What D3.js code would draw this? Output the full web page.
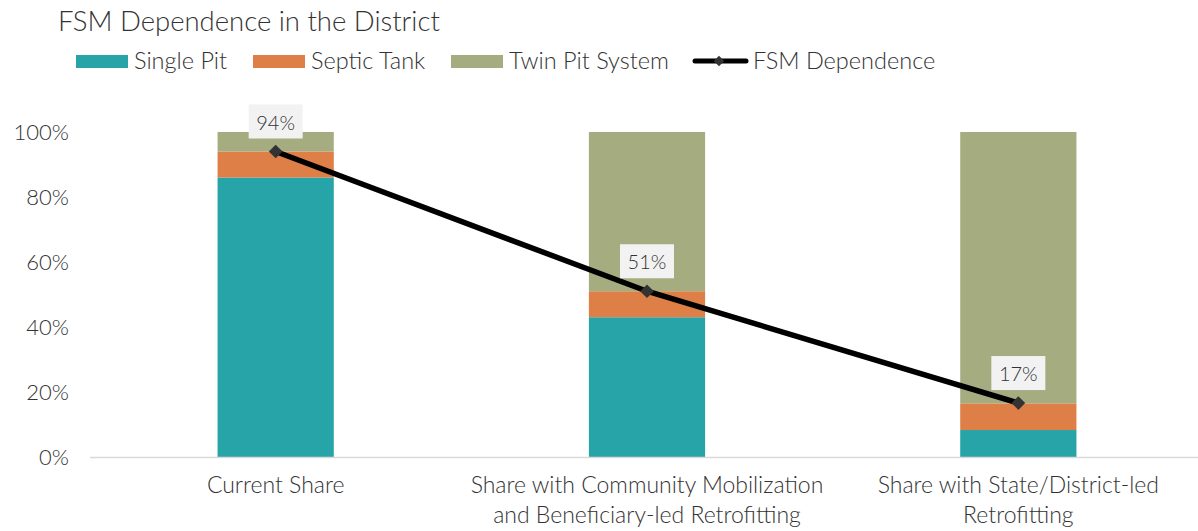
<!DOCTYPE html>
<html>
<head>
<meta charset="utf-8">
<script src="https://cdn.jsdelivr.net/npm/d3@7"></script>
<style>
body { margin: 0; background: #fff; }
svg text { font-family: Lato, "Open Sans", sans-serif; fill: #333; font-weight: 300; }
</style>
</head>
<body>
<div id="chart"></div>
<script>
width = 1198;
height = 531;
margins = {left: 90, right: -6, top: 132, bottom: 74};

categories = [
    ["Current Share"],
    ["Share with Community Mobilization", "and Beneficiary-led Retrofitting"],
    ["Share with State/District-led", "Retrofitting"]
];
singlePit = [86, 43, 8.3];
septicTank = [8, 8, 8.2];
twinPit = [6, 49, 83.5];
fsmDependence = [94, 51, 16.6];
yTicks = [0, 20, 40, 60, 80, 100];

seriesNames = ["Single Pit", "Septic Tank", "Twin Pit System"];
colors = ["#26A4A8", "#DE7F47", "#A4AC80"];

var rows = categories.map((c, i) => ({i: i, "Single Pit": singlePit[i], "Septic Tank": septicTank[i], "Twin Pit System": twinPit[i]}));
var stacked = d3.stack().keys(seriesNames)(rows);

var x = d3.scaleBand().domain(d3.range(categories.length))
    .range([margins.left, width - margins.right]).paddingInner(0.687).paddingOuter(0.3435);
var y = d3.scaleLinear().domain([0, 100]).range([height - margins.bottom, margins.top]);

var svg = d3.select("#chart").append("svg")
    .attr("width", width)
    .attr("height", height);

// title
svg.append("text").attr("x", 58).attr("y", 31)
    .style("font-size", "27.5px")
    .text("FSM Dependence in the District");

// legend
var legendX = [76, 253, 451];
seriesNames.forEach(function(name, k) {
    svg.append("rect").attr("x", legendX[k]).attr("y", 55).attr("width", 52).attr("height", 13).attr("fill", colors[k]);
    svg.append("text").attr("x", legendX[k] + 58).attr("y", 69)
        .style("font-size", "23.5px").text(name);
});
svg.append("line").attr("x1", 695).attr("x2", 746).attr("y1", 61).attr("y2", 61)
    .attr("stroke", "#000").attr("stroke-width", 5).attr("stroke-linecap", "round");
svg.append("path").attr("d", d3.symbol(d3.symbolDiamond2, 70)()).attr("transform", "translate(719,61)").attr("fill", "#333");
svg.append("text").attr("x", 753).attr("y", 69)
    .style("font-size", "23.5px").text("FSM Dependence");

// y axis
var yAxis = d3.axisLeft(y).tickValues(yTicks).tickFormat(d => d + "%").tickSize(0).tickPadding(0);
var ya = svg.append("g").attr("transform", "translate(69,0)").call(yAxis);
ya.select(".domain").remove();
ya.selectAll("text").style("font-size", "22px").attr("fill", "#333");

// bars
svg.append("g").selectAll("g")
    .data(stacked)
    .enter().append("g")
    .attr("fill", (d, k) => colors[k])
    .selectAll("rect")
    .data(d => d)
    .enter().append("rect")
    .attr("x", d => x(d.data.i))
    .attr("y", d => y(d[1]))
    .attr("width", x.bandwidth())
    .attr("height", d => y(d[0]) - y(d[1]));

// baseline
svg.append("line").attr("x1", margins.left).attr("x2", 1198).attr("y1", y(0) + 0.5).attr("y2", y(0) + 0.5)
    .attr("stroke", "#d9d9d9").attr("stroke-width", 1.5);

// x labels
var xl = svg.append("g").selectAll("text").data(categories).enter().append("text")
    .attr("text-anchor", "middle")
    .attr("x", (d, i) => x(i) + x.bandwidth() / 2)
    .attr("y", 493)
    .style("font-size", "23px");
xl.selectAll("tspan").data(d => d).enter().append("tspan")
    .attr("x", function() { return d3.select(this.parentNode).attr("x"); })
    .attr("dy", (d, j) => j == 0 ? 0 : 30)
    .text(d => d);

// line
var line = d3.line().x((d, i) => x(i) + x.bandwidth() / 2).y(d => y(d));
svg.append("path").datum(fsmDependence).attr("d", line)
    .attr("fill", "none").attr("stroke", "#000").attr("stroke-width", 5.5);
svg.selectAll(".marker").data(fsmDependence).enter().append("path")
    .attr("class", "marker")
    .attr("d", d3.symbol(d3.symbolDiamond2, 120)())
    .attr("transform", (d, i) => "translate(" + (x(i) + x.bandwidth() / 2) + "," + y(d) + ")")
    .attr("fill", "#333");

// data labels
fsmDependence.forEach(function(d, i) {
    var cx = x(i) + x.bandwidth() / 2;
    svg.append("rect").attr("x", cx - 27).attr("y", y(d) - 47).attr("width", 54).attr("height", 34).attr("fill", "#f2f2f2");
    svg.append("text").attr("x", cx).attr("y", y(d) - 22).attr("text-anchor", "middle")
        .style("font-size", "20px").text(Math.round(d) + "%");
});
</script>
</body>
</html>
